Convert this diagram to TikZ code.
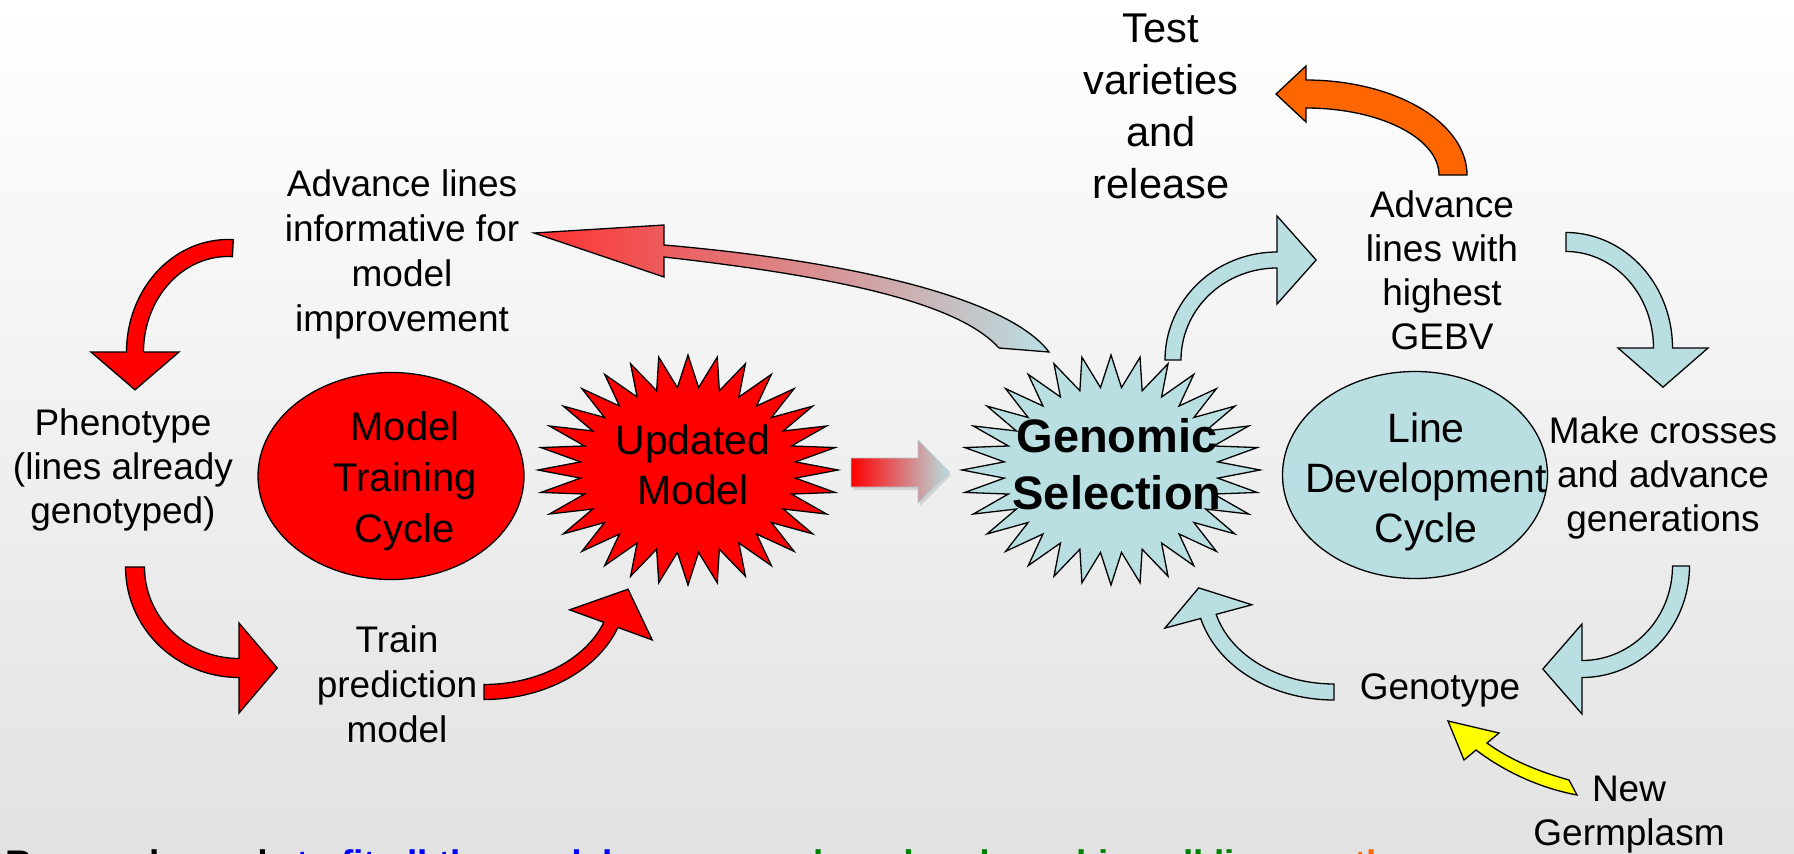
\documentclass[tikz,border=0pt]{standalone}
\usepackage{fontspec}
\setmainfont{Liberation Sans}
\usetikzlibrary{shapes.geometric,shadows}
\definecolor{lblue}{HTML}{B9DFE3}
\definecolor{pred}{HTML}{FF0000}
\definecolor{gradred}{HTML}{FF3030}
\definecolor{porange}{HTML}{FF6600}
\definecolor{pyellow}{HTML}{FFFF00}
\definecolor{bggray}{HTML}{E2E2E2}
\definecolor{dgreen}{HTML}{008000}
\newcommand\arrhl{1}
% curved block arrow: #1 style, #2 cx, #3 cy, #4 rx, #5 ry, #6 start angle, #7 end angle, #8 half shaft, #9 half head
\newcommand\carrow[9]{%
 \pgfmathsetmacro\cAsg{(#7>#6)?1:-1}%
 \pgfmathsetmacro\cAang{atan2((\cAsg)*#5*cos(#7),(\cAsg)*(-1)*#4*sin(#7))}%
 \pgfmathsetmacro\cAx{#2+#4*cos(#7)+\arrhl*#9*cos(\cAang)}%
 \pgfmathsetmacro\cAy{#3+#5*sin(#7)+\arrhl*#9*sin(\cAang)}%
 \filldraw[#1] plot[domain=#6:#7,samples=40,variable=\cAt]({#2+(#4+#8)*cos(\cAt)},{#3+(#5+#8)*sin(\cAt)})
  -- ({#2+(#4+#9)*cos(#7)},{#3+(#5+#9)*sin(#7)})
  -- (\cAx,\cAy)
  -- ({#2+(#4-#9)*cos(#7)},{#3+(#5-#9)*sin(#7)})
  -- plot[domain=#7:#6,samples=40,variable=\cAt]({#2+(#4-#8)*cos(\cAt)},{#3+(#5-#8)*sin(\cAt)})
  -- cycle;}
% 32-point star: #1 style, #2 cx, #3 cy, #4 rx, #5 ry
\newcommand\starburst[5]{%
 \filldraw[#1] plot[samples at={0,...,63},variable=\cAi]
  ({#2+#4*(0.86+0.14*cos(\cAi*180))*cos(-90+\cAi*5.625)},{#3+#5*(0.86+0.14*cos(\cAi*180))*sin(-90+\cAi*5.625)}) -- cycle;}
\tikzset{
 outl/.style={draw=black,line width=1.3pt,line join=miter},
 lbl/.style={align=center,inner sep=0pt,font=\fontsize{37}{45}\selectfont},
 lbl44/.style={align=center,inner sep=0pt,font=\fontsize{37}{44}\selectfont},
 big/.style={align=center,inner sep=0pt,font=\fontsize{41}{50}\selectfont},
 foot/.style={anchor=base west,inner sep=0pt,font=\fontsize{37}{44}\selectfont\bfseries}
}
\begin{document}
\begin{tikzpicture}[x=1pt,y=-1pt]
\useasboundingbox (0,0) rectangle (1794,854);
\clip (0,0) rectangle (1794,854);
\shade[top color=white,bottom color=bggray] (0,0) rectangle (1794,854);

% gradient curved arrow Genomic Selection -> Advance lines informative
\shade[left color=gradred,right color=lblue,outl]
 (1049,352) .. controls (1010,300) and (860,262) .. (664,245) -- (664,225) -- (534,233)
 -- (664,277) -- (664,257) .. controls (850,278) and (960,305) .. (999,348) -- cycle;

% starbursts
\starburst{fill=pred,outl}{688}{470}{150}{115}
\coordinate (updS) at (688,470);
\starburst{fill=lblue,outl}{1111}{470}{149}{115}
\coordinate (gsS) at (1111,470);

% ellipses
\node[ellipse,fill=pred,outl,minimum width=266pt,minimum height=207pt,inner sep=0pt] (mtcE) at (391,476) {};
\node[ellipse,fill=lblue,outl,minimum width=265pt,minimum height=207pt,inner sep=0pt] (ldcE) at (1415,475) {};

% straight gradient block arrow
\shade[left color=red,middle color=lblue!80!red,right color=lblue,draw=lblue!80!gray,line width=0.8pt,
 drop shadow={shadow xshift=2pt,shadow yshift=-3pt,opacity=0.25}]
 (851,458) -- (918,458) -- (918,440) -- (949,472) -- (918,503) -- (918,487) -- (851,487) -- cycle;

% red curved arrows
\renewcommand\arrhl{0.86}
\carrow{fill=pred,outl}{228}{352}{93}{104}{-87}{-180}{8.5}{44}
\renewcommand\arrhl{0.85}
\carrow{fill=pred,outl}{239}{567}{104}{101}{180}{90}{9.5}{45}
\renewcommand\arrhl{0.9}
\carrow{fill=pred,outl}{484}{590}{135}{102}{90}{20}{7.5}{44}

% light blue curved arrows
\renewcommand\arrhl{0.89}
\carrow{fill=lblue,outl}{1277}{360}{104}{100}{180}{270}{8}{44}
\renewcommand\arrhl{0.87}
\carrow{fill=lblue,outl}{1566}{348}{97}{106}{-90}{0}{9.5}{45}
\carrow{fill=lblue,outl}{1582}{566}{99}{103}{0}{90}{8.5}{45}
\renewcommand\arrhl{0.67}
\carrow{fill=lblue,outl}{1334}{590}{130}{102}{90}{165}{8}{45}

% orange arrow
\renewcommand\arrhl{1.07}
\carrow{fill=porange,outl}{1306}{175}{147}{81}{0}{-90}{14}{28}

% yellow arrow
\filldraw[fill=pyellow,outl]
 (1569,780) .. controls (1540,772) and (1510,760) .. (1487,743) -- (1499,733) -- (1448,721)
 -- (1464,760) -- (1476,750) .. controls (1505,772) and (1540,788) .. (1577,795) -- cycle;

% texts
\node[lbl] (advinf) at (402,254.9) {Advance lines\\informative for\\model\\improvement};
\node[lbl44] (pheno) at (123,469.6) {Phenotype\\(lines already\\genotyped)};
\node[align=center,inner sep=0pt,font=\fontsize{40}{51}\selectfont] (mtc) at (405,480.9) {Model\\Training\\Cycle};
\node[big] (upd) at (693,465.3) {Updated\\Model};
\node[align=center,inner sep=0pt,font=\fontsize{47}{57}\selectfont\bfseries] (gs) at (1117,464.3) {Genomic\\Selection};
\node[big] (ldc) at (1426,481.6) {Line\\Development\\Cycle};
\node[lbl44] (advhi) at (1442,269.8) {Advance\\lines with\\highest\\GEBV};
\node[lbl44] (make) at (1663,477.7) {Make crosses\\and advance\\generations};
\node[lbl] (geno) at (1440,690.4) {Genotype};
\node[lbl44] (newg) at (1629,814.7) {New\\Germplasm};
\node[lbl] (train) at (397,683.8) {Train\\prediction\\model};
\node[align=center,inner sep=0pt,font=\fontsize{41.6}{52}\selectfont] (test) at (1161,106) {Test\\varieties\\and\\release};

% cut-off footer line
\node[foot] (f1) at (5,876.5) {Research needs};
\node[foot,text=blue] (f2) at (296,876.5) {to fit all the models};
\node[foot,text=dgreen] (f3) at (813,876.5) {breed and combine all lines};
\node[foot,text=porange] (f4) at (1354,876.5) {the};
\end{tikzpicture}
\end{document}
